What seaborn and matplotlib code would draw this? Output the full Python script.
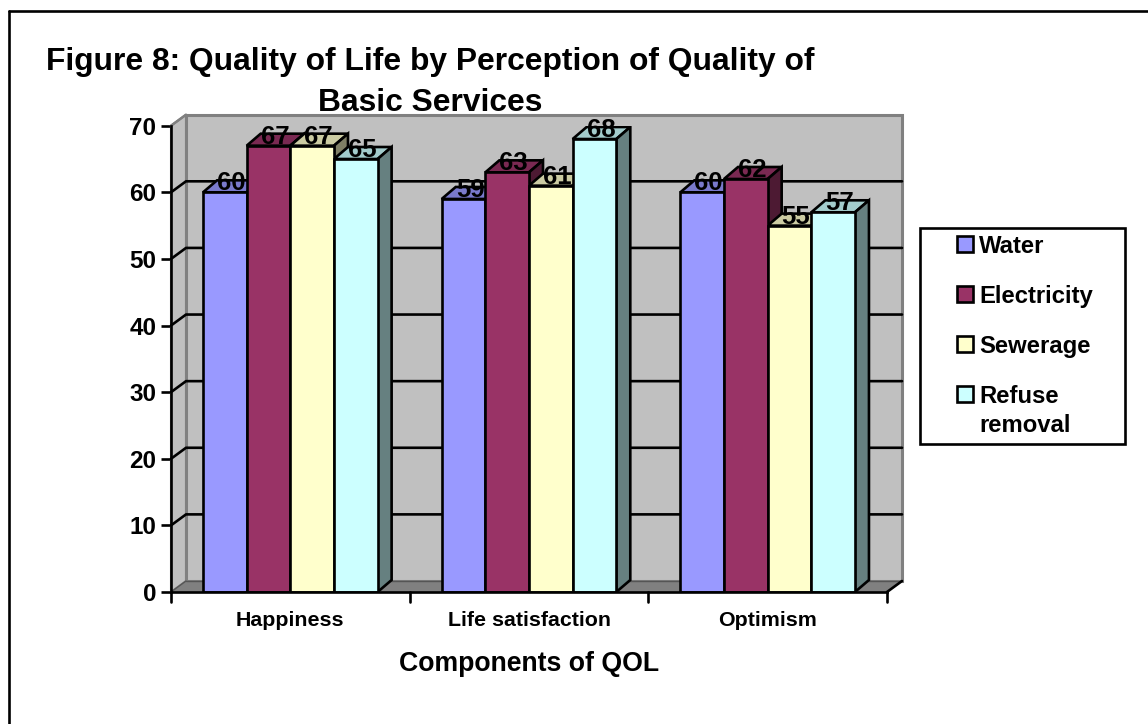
import matplotlib

matplotlib.use("Agg", force=True)
import matplotlib.pyplot as plt
import matplotlib.transforms as mtransforms
import pandas as pd
import seaborn as sns
from matplotlib.colors import to_rgb
from matplotlib.lines import Line2D
from matplotlib.patches import Polygon, Rectangle

components = ["Happiness", "Life satisfaction", "Optimism"]
services = ["Water", "Electricity", "Sewerage", "Refuse removal"]
water = [60, 59, 60]
electricity = [67, 63, 62]
sewerage = [67, 61, 55]
refuse = [65, 68, 57]
colors = ["#9999FF", "#993366", "#FFFFCC", "#CCFFFF"]
y_ticks = [0, 10, 20, 30, 40, 50, 60, 70]

WIDTH, HEIGHT = 1148, 724
DEPTH_X, DEPTH_Y = 15, 11
WALL = "#C0C0C0"
FLOOR = "#808080"
EDGE = 1.9


def shade(color, factor):
    return tuple(c * factor for c in to_rgb(color))


def px_x(x):
    return x / WIDTH


def px_y(y):
    return 1 - y / HEIGHT


def draw_walls(ax, back):
    x0, x1 = ax.get_xlim()
    top = y_ticks[-1]
    back_pts = back.transform([(x0, 0), (x1, 0), (x1, top), (x0, top)])
    inv = ax.transData.inverted()
    (bx0, by0), (bx1, _), _, (_, by1) = inv.transform(back_pts)
    ax.add_patch(Polygon([(x0, 0), (bx0, by0), (bx0, by1), (x0, top)], fc=WALL, ec=FLOOR, lw=1.5, zorder=0.6, clip_on=False))
    ax.add_patch(Rectangle((bx0, by0), bx1 - bx0, by1 - by0, fc=WALL, ec=FLOOR, lw=2.2, zorder=0.7, clip_on=False))
    ax.add_patch(Polygon([(x0, 0), (bx0, by0), (bx1, by0), (x1, 0)], fc=FLOOR, ec="none", zorder=0.8, clip_on=False))
    ax.plot([bx0, bx1], [by0, by0], color="#555555", lw=1, zorder=0.9, clip_on=False)
    ax.plot([x1, bx1], [0, by0], color="black", lw=EDGE, zorder=0.9, clip_on=False)
    ax.plot([x0, bx0], [0, by0], color="#555555", lw=1, zorder=0.9, clip_on=False)
    for tick in y_ticks[1:-1]:
        _, by = inv.transform(back.transform((x0, tick)))
        ax.plot([x0, bx0, bx1], [tick, by, by], color="black", lw=EDGE, zorder=1, clip_on=False)
    ax.plot([x0, bx0], [top, by1], color=FLOOR, lw=1.8, zorder=1, clip_on=False)


def draw_depth(ax, container, color):
    # top and side faces of each bar, taken from the bars seaborn drew
    inv = ax.transData.inverted()
    for bar in container:
        left, right = bar.get_x(), bar.get_x() + bar.get_width()
        height = bar.get_height()
        (shift_x, shift_y) = inv.transform(ax.transData.transform((right, height)) + (DEPTH_X - 1, DEPTH_Y + 1))
        dx = shift_x - right
        ax.add_patch(Polygon(
            [(left, height), (left + dx, shift_y), (right + dx, shift_y), (right, height)],
            fc=shade(color, 0.8), ec="black", lw=EDGE, zorder=2, joinstyle="miter",
        ))
        _, base_y = inv.transform(ax.transData.transform((right, 0)) + (DEPTH_X - 1, DEPTH_Y + 1))
        ax.add_patch(Polygon(
            [(right, 0), (right + dx, base_y), (right + dx, shift_y), (right, height)],
            fc=shade(color, 0.5), ec="black", lw=EDGE, zorder=2, joinstyle="miter",
        ))


def draw_legend(fig):
    fig.add_artist(Rectangle(
        (px_x(920), px_y(444)), 205 / WIDTH, 216 / HEIGHT,
        transform=fig.transFigure, fc="white", ec="black", lw=1.9,
    ))
    for i, (name, color) in enumerate(zip(services, colors)):
        y = 244 + 50 * i
        fig.add_artist(Rectangle(
            (px_x(957), px_y(y + 8)), 16 / WIDTH, 16 / HEIGHT,
            transform=fig.transFigure, fc=color, ec="black", lw=1.9,
        ))
        first, *rest = name.split(" ")
        fig.text(px_x(979), px_y(y), first, fontsize=17.2, fontweight="bold", color="black", va="center_baseline")
        for line in rest:
            fig.text(px_x(979), px_y(y + 29), line, fontsize=17.2, fontweight="bold", color="black", va="center_baseline")


def main():
    sns.set_theme(style="white")
    plt.rcParams["font.family"] = ["Liberation Sans", "DejaVu Sans"]
    plt.rcParams["font.weight"] = "bold"

    data = pd.DataFrame({
        "component": components * 4,
        "service": [s for s in services for _ in components],
        "value": water + electricity + sewerage + refuse,
    })

    fig = plt.figure(figsize=(WIDTH / 100, HEIGHT / 100), dpi=100)
    ax = fig.add_axes([px_x(171), px_y(592), (887 - 171) / WIDTH, (592 - 125.7) / HEIGHT])
    sns.barplot(
        data=data, x="component", y="value", hue="service", order=components, hue_order=services,
        palette=colors, width=0.7315, gap=0, dodge=True, saturation=1, legend=False,
        edgecolor="black", linewidth=EDGE, zorder=3, ax=ax,
    )
    ax.set_xlim(-0.5, 2.5)
    ax.set_ylim(0, 70)
    back = mtransforms.offset_copy(ax.transData, fig=fig, x=DEPTH_X, y=DEPTH_Y, units="dots")

    draw_walls(ax, back)
    for container, color in zip(ax.containers, colors):
        draw_depth(ax, container, color)
    for container in ax.containers:
        for bar in container:
            ax.annotate(
                f"{bar.get_height():.0f}",
                xy=(bar.get_x() + bar.get_width() / 2, bar.get_height()),
                xytext=(6.5, 9), textcoords="offset pixels",
                ha="center", va="center", fontsize=18.5, fontweight="bold", color="black",
                zorder=5, annotation_clip=False,
            )

    for spine in ["top", "right"]:
        ax.spines[spine].set_visible(False)
    for spine in ["left", "bottom"]:
        ax.spines[spine].set_color("black")
        ax.spines[spine].set_linewidth(1.9)
        ax.spines[spine].set_zorder(4)
    ax.set_facecolor("none")

    ax.set_yticks(y_ticks)
    ax.set_yticklabels([str(t) for t in y_ticks], fontsize=17.5, fontweight="bold", color="black")
    ax.tick_params(axis="y", left=True, length=7, width=1.9, pad=3.5, color="black")
    ax.set_xticks([0, 1, 2])
    ax.set_xticklabels(components, fontsize=15.4, fontweight="bold", color="black")
    ax.tick_params(axis="x", bottom=False, pad=7.5)
    for edge in [-0.5, 0.5, 1.5, 2.5]:
        ax.add_artist(Line2D(
            [edge, edge], [0, -10 / (592 - 125.7) * 70], color="black", lw=1.9, clip_on=False, zorder=4,
        ))
    ax.set_xlabel("Components of QOL", fontsize=19.2, fontweight="bold", color="black", labelpad=15.5)
    ax.set_ylabel("")

    fig.text(
        px_x(430), px_y(82.5), "Figure 8: Quality of Life by Perception of Quality of\nBasic Services",
        ha="center", va="center", fontsize=22.9, fontweight="bold", color="black", linespacing=1.48,
    )
    fig.add_artist(Line2D([px_x(9), px_x(9)], [0, px_y(11)], color="black", lw=1.9))
    fig.add_artist(Line2D([px_x(9), 1], [px_y(11), px_y(11)], color="black", lw=1.9))
    draw_legend(fig)

    fig.savefig("out.png", dpi=100)
    plt.close(fig)


if __name__ == "__main__":
    main()
